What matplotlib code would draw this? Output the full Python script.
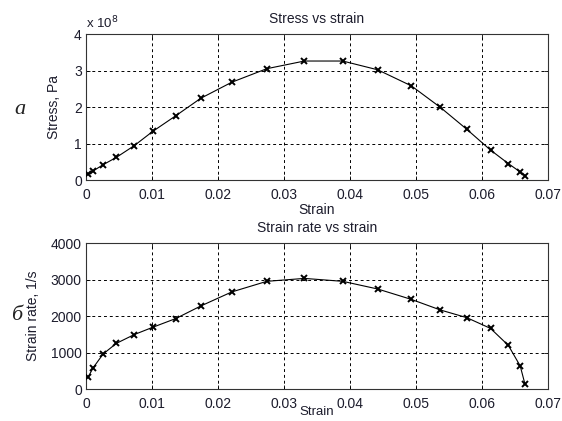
import matplotlib
matplotlib.use("Agg")
import matplotlib.pyplot as plt

strain = [0.0003, 0.0011, 0.0026, 0.0046, 0.0073, 0.0101, 0.0136, 0.0174, 0.0221, 0.0274,
          0.0331, 0.0389, 0.0442, 0.0493, 0.0537, 0.0577, 0.0613, 0.0640, 0.0658, 0.0665]
stress_e8 = [0.16, 0.25, 0.42, 0.62, 0.94, 1.33, 1.76, 2.24, 2.68, 3.05,
             3.26, 3.26, 3.02, 2.58, 1.99, 1.39, 0.82, 0.45, 0.22, 0.12]
strain_rate = [320, 585, 960, 1250, 1490, 1690, 1930, 2275, 2660, 2950,
               3030, 2950, 2740, 2455, 2165, 1955, 1660, 1195, 630, 145]

xticks = [0, 0.01, 0.02, 0.03, 0.04, 0.05, 0.06, 0.07]
xticklabels = ["0", "0.01", "0.02", "0.03", "0.04", "0.05", "0.06", "0.07"]
yticks_top = [0, 1, 2, 3, 4]
yticks_bot = [0, 1000, 2000, 3000, 4000]

plt.rcParams['font.family'] = ['Liberation Sans', 'DejaVu Sans']
txtcol = '#1c1c2c'
fs = 10

fig = plt.figure(figsize=(5.62, 4.21), dpi=100)
ax1 = fig.add_axes([0.153, 0.5724, 0.822, 0.3468])
ax2 = fig.add_axes([0.153, 0.076, 0.822, 0.3468])

def style(ax, yticks, title, ylabel, ylx, xly, xlfs):
    ax.set_xlim(0, 0.07)
    ax.set_ylim(yticks[0], yticks[-1])
    ax.set_xticks(xticks)
    ax.set_xticklabels(xticklabels)
    ax.set_yticks(yticks)
    ax.set_yticklabels([str(v) for v in yticks])
    ax.tick_params(direction='in', length=3, width=0.6, top=True, right=True,
                   labelsize=fs, labelcolor=txtcol)
    ax.tick_params(axis='x', pad=5.5)
    ax.tick_params(axis='y', pad=3)
    ax.grid(True, color='black', linestyle=(0, (3, 3)), linewidth=0.7)
    for s in ax.spines.values():
        s.set_linewidth(0.8)
        s.set_color('#333333')
    ax.text(0.5, 1.103, title, transform=ax.transAxes, fontsize=fs, color=txtcol,
            ha='center', va='center')
    ax.set_xlabel('Strain', fontsize=xlfs, color=txtcol)
    ax.xaxis.set_label_coords(0.5, xly)
    ax.set_ylabel(ylabel, fontsize=fs, color=txtcol)
    ax.yaxis.label.set_va('center')
    ax.yaxis.set_label_coords(ylx, 0.5)

ax1.plot(strain, stress_e8, color='black', linewidth=0.8, marker='x',
         markersize=4.5, markeredgewidth=1.4, zorder=3)
style(ax1, yticks_top, 'Stress vs strain', 'Stress, Pa', -0.069, -0.158, fs)
ax1.text(0.0, 1.02, r'x 10$^{8}$', transform=ax1.transAxes, fontsize=fs - 0.5,
         color=txtcol, ha='left', va='bottom')

ax2.plot(strain, strain_rate, color='black', linewidth=0.8, marker='x',
         markersize=4.5, markeredgewidth=1.4, zorder=3)
style(ax2, yticks_bot, 'Strain rate vs strain', 'Strain rate, 1/s', -0.115, -0.115, 9.5)

fig.text(20 / 562, 1 - 110 / 421, 'a', fontsize=16, family='Liberation Serif',
         style='italic', ha='center', va='center', color='#222222')
fig.text(17 / 562, 1 - 316 / 421, 'б', fontsize=16, family='Liberation Serif',
         style='italic', ha='center', va='center', color='#222222')

fig.savefig('out.png', dpi=100)
